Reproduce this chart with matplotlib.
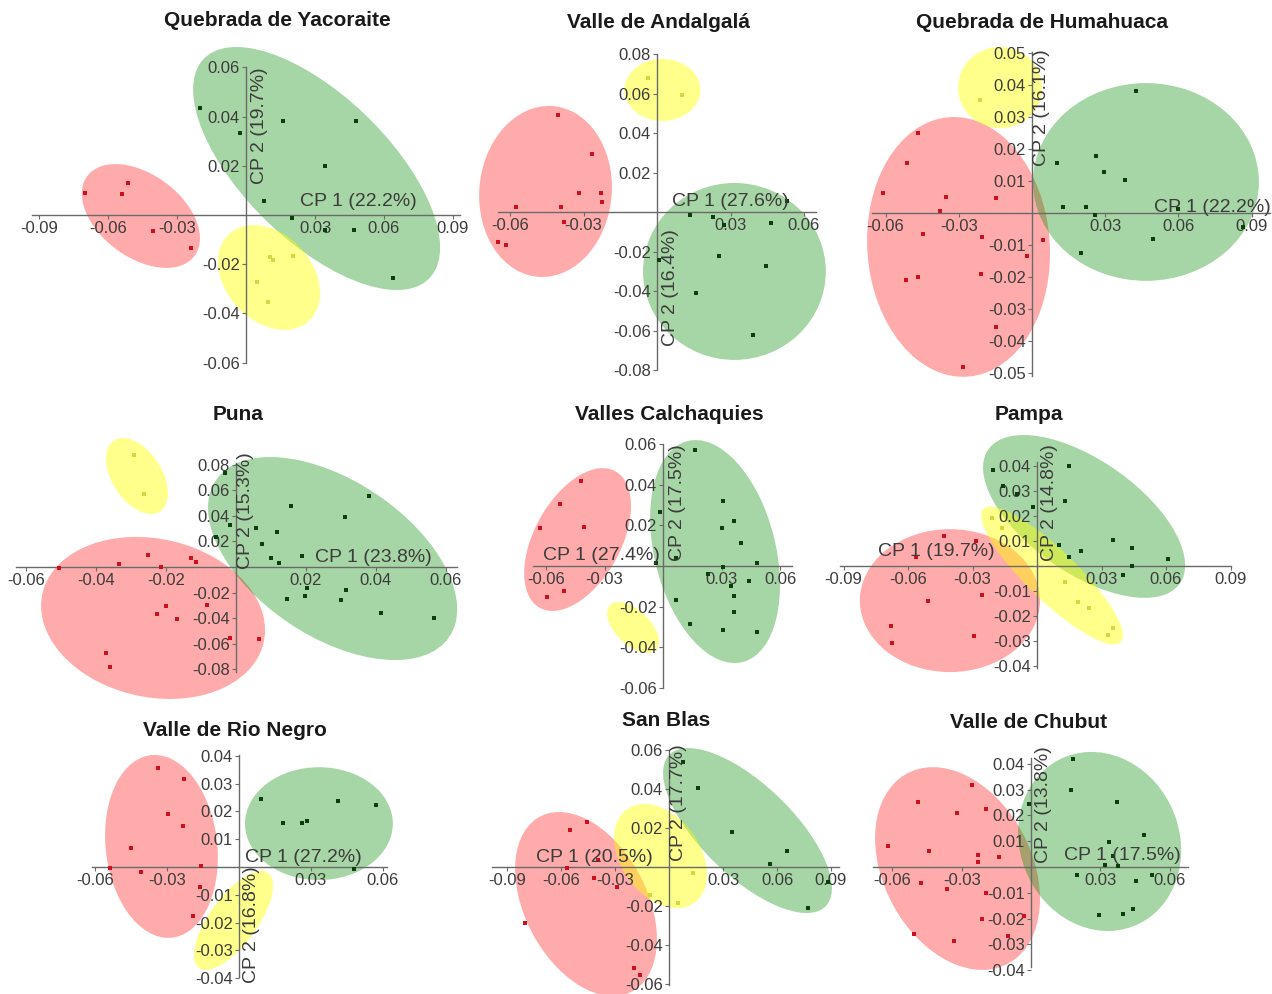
import numpy as np
import matplotlib
matplotlib.use("Agg")
import matplotlib.pyplot as plt
from matplotlib.patches import Ellipse

plt.rcParams["font.family"] = ["Liberation Sans", "DejaVu Sans"]

# ---------------------------------------------------------------- data
# Scores on the first two principal components, by group (red / green / yellow)
# Confidence ellipses: (centre x, centre y, half-extent x, half-extent y, correlation)

yacoraite_title = "Quebrada de Yacoraite"
yacoraite_axes = ("CP 1 (22.2%)", "CP 2 (19.7%)")
yacoraite_xticks = [-0.09, -0.06, -0.03, 0.03, 0.06, 0.09]
yacoraite_yticks = [-0.06, -0.04, -0.02, 0.02, 0.04, 0.06]
yacoraite_red = [(-0.0700, 0.0089), (-0.0539, 0.0085), (-0.0513, 0.0130),
                 (-0.0404, -0.0065), (-0.0239, -0.0134)]
yacoraite_green = [(-0.0200, 0.0435), (-0.0026, 0.0333), (0.0161, 0.0382),
                   (0.0478, 0.0382), (0.0343, 0.0199), (0.0078, 0.0057),
                   (0.0200, -0.0012), (0.0470, -0.0061), (0.0343, -0.0061),
                   (0.0639, -0.0256)]
yacoraite_yellow = [(0.0104, -0.0171), (0.0117, -0.0183), (0.0204, -0.0167),
                    (0.0048, -0.0272), (0.0096, -0.0354)]
yacoraite_ellipses = {"red": (-0.0457, -0.0004, 0.0257, 0.0211, -0.43),
                      "green": (0.0307, 0.0189, 0.0537, 0.0494, -0.65),
                      "yellow": (0.0100, -0.0254, 0.0222, 0.0213, -0.30)}

andalgala_title = "Valle de Andalgalá"
andalgala_axes = ("CP 1 (27.6%)", "CP 2 (16.4%)")
andalgala_xticks = [-0.06, -0.03, 0.03, 0.06]
andalgala_yticks = [-0.08, -0.06, -0.04, -0.02, 0.02, 0.04, 0.06, 0.08]
andalgala_red = [(-0.0404, 0.0491), (-0.0265, 0.0294), (-0.0318, 0.0096),
                 (-0.0229, 0.0096), (-0.0224, 0.0051), (-0.0392, 0.0025),
                 (-0.0576, 0.0025), (-0.0380, -0.0051), (-0.0649, -0.0152),
                 (-0.0616, -0.0167)]
andalgala_green = [(0.0135, -0.0015), (0.0229, -0.0025), (0.0531, 0.0056),
                   (0.0465, -0.0056), (0.0273, -0.0066), (0.0253, -0.0223),
                   (0.0445, -0.0273), (0.0008, -0.0243), (0.0159, -0.0410),
                   (0.0392, -0.0623)]
andalgala_yellow = [(-0.0037, 0.0679), (0.0102, 0.0592)]
andalgala_ellipses = {"red": (-0.0455, 0.0104, 0.0271, 0.0433, 0.05),
                      "green": (0.0316, -0.0301, 0.0373, 0.0448, 0.0),
                      "yellow": (0.0022, 0.0618, 0.0155, 0.0157, 0.0)}

humahuaca_title = "Quebrada de Humahuaca"
humahuaca_axes = ("CP 1 (22.2%)", "CP 2 (16.1%)")
humahuaca_xticks = [-0.06, -0.03, 0.03, 0.06, 0.09]
humahuaca_yticks = [-0.05, -0.04, -0.03, -0.02, -0.01, 0.01, 0.02, 0.03, 0.04, 0.05]
humahuaca_red = [(-0.0467, 0.0250), (-0.0512, 0.0156), (-0.0611, 0.0063),
                 (-0.0352, 0.0050), (-0.0148, 0.0047), (-0.0377, 0.0006),
                 (-0.0447, -0.0066), (-0.0205, -0.0075), (0.0045, -0.0084),
                 (-0.0020, -0.0134), (-0.0516, -0.0209), (-0.0467, -0.0200),
                 (-0.0209, -0.0191), (-0.0148, -0.0356), (-0.0283, -0.0481)]
humahuaca_green = [(0.0426, 0.0381), (0.0262, 0.0178), (0.0102, 0.0156),
                   (0.0295, 0.0128), (0.0381, 0.0103), (0.0127, 0.0019),
                   (0.0221, 0.0019), (0.0258, -0.0006), (0.0598, 0.0013),
                   (0.0496, -0.0081), (0.0201, -0.0125), (0.0865, -0.0044)]
humahuaca_yellow = [(-0.0213, 0.0353)]
humahuaca_ellipses = {"red": (-0.0301, -0.0106, 0.0375, 0.0406, -0.05),
                      "green": (0.0467, 0.0097, 0.0463, 0.0309, 0.0),
                      "yellow": (-0.0131, 0.0392, 0.0172, 0.0127, 0.0)}

puna_title = "Puna"
puna_axes = ("CP 1 (23.8%)", "CP 2 (15.3%)")
puna_xticks = [-0.06, -0.04, -0.02, 0.02, 0.04, 0.06]
puna_yticks = [-0.08, -0.06, -0.04, -0.02, 0.02, 0.04, 0.06, 0.08]
puna_red = [(-0.0506, -0.0008), (-0.0334, 0.0023), (-0.0251, 0.0094),
            (-0.0214, 0.0000), (-0.0129, 0.0070), (-0.0114, 0.0039),
            (-0.0200, -0.0305), (-0.0226, -0.0367), (-0.0169, -0.0406),
            (-0.0083, -0.0297), (-0.0017, -0.0555), (0.0066, -0.0563),
            (-0.0371, -0.0672), (-0.0360, -0.0781)]
puna_green = [(-0.0031, 0.0734), (0.0157, 0.0477), (0.0380, 0.0555),
              (0.0311, 0.0391), (-0.0017, 0.0328), (0.0057, 0.0305),
              (0.0117, 0.0273), (-0.0057, 0.0234), (0.0074, 0.0180),
              (0.0100, 0.0070), (0.0189, 0.0086), (0.0123, 0.0031),
              (0.0203, -0.0164), (0.0314, -0.0180), (0.0197, -0.0227),
              (0.0146, -0.0250), (0.0300, -0.0258), (0.0414, -0.0359),
              (0.0566, -0.0398)]
puna_yellow = [(-0.0291, 0.0875), (-0.0263, 0.0570)]
puna_ellipses = {"red": (-0.0237, -0.0398, 0.0320, 0.0633, -0.15),
                 "green": (0.0276, 0.0066, 0.0356, 0.0793, -0.50),
                 "yellow": (-0.0283, 0.0711, 0.00886, 0.0297, -0.45)}

calchaquies_title = "Valles Calchaquies"
calchaquies_axes = ("CP 1 (27.4%)", "CP 2 (17.5%)")
calchaquies_xticks = [-0.06, -0.03, 0.03, 0.06]
calchaquies_yticks = [-0.06, -0.04, -0.02, 0.02, 0.04, 0.06]
calchaquies_red = [(-0.0421, 0.0418), (-0.0528, 0.0305), (-0.0631, 0.0187),
                   (-0.0405, 0.0192), (-0.0508, -0.0123), (-0.0595, -0.0152)]
calchaquies_green = [(0.0164, 0.0570), (0.0308, 0.0319), (-0.0015, 0.0265),
                     (0.0364, 0.0221), (0.0303, 0.0187), (0.0400, 0.0113),
                     (0.0067, 0.0039), (-0.0036, 0.0015), (0.0482, 0.0015),
                     (0.0308, -0.0005), (0.0231, -0.0039), (0.0441, -0.0074),
                     (0.0349, -0.0098), (0.0364, -0.0147), (0.0067, -0.0167),
                     (0.0364, -0.0226), (0.0138, -0.0285), (0.0308, -0.0314),
                     (0.0482, -0.0324)]
calchaquies_yellow = []
calchaquies_ellipses = {"red": (-0.0438, 0.0130, 0.0274, 0.0351, 0.47),
                        "green": (0.0267, 0.0071, 0.0333, 0.0548, -0.30),
                        "yellow": (-0.0154, -0.0302, 0.0133, 0.0125, -0.55)}

pampa_title = "Pampa"
pampa_axes = ("CP 1 (19.7%)", "CP 2 (14.8%)")
pampa_xticks = [-0.09, -0.06, -0.03, 0.03, 0.06, 0.09]
pampa_yticks = [-0.04, -0.03, -0.02, -0.01, 0.01, 0.02, 0.03, 0.04]
pampa_red = [(-0.0433, 0.0120), (-0.0284, 0.0100), (-0.0563, 0.0036),
             (-0.0256, -0.0116), (-0.0507, -0.0141), (-0.0679, -0.0241),
             (-0.0293, -0.0281), (-0.0674, -0.0309)]
pampa_green = [(-0.0205, 0.0386), (0.0149, 0.0402), (-0.0158, 0.0321),
               (-0.0093, 0.0289), (0.0130, 0.0261), (-0.0019, 0.0237),
               (0.0353, 0.0104), (0.0442, 0.0072), (0.0102, 0.0084),
               (0.0205, 0.0060), (0.0149, 0.0036), (0.0609, 0.0028),
               (0.0442, 0.0000), (0.0400, -0.0036)]
pampa_yellow = [(0.0130, -0.0064), (0.0191, -0.0145), (0.0242, -0.0169),
                (0.0330, -0.0277), (0.0353, -0.0249), (-0.0209, 0.0193),
                (-0.0163, 0.0153)]
pampa_ellipses = {"red": (-0.0405, -0.0139, 0.0419, 0.0287, 0.0),
                  "green": (0.0219, 0.0199, 0.0470, 0.0327, -0.60),
                  "yellow": (0.0070, -0.0038, 0.0330, 0.0277, -0.87)}

rionegro_title = "Valle de Rio Negro"
rionegro_axes = ("CP 1 (27.2%)", "CP 2 (16.8%)")
rionegro_xticks = [-0.06, -0.03, 0.03, 0.06]
rionegro_yticks = [-0.04, -0.03, -0.02, -0.01, 0.01, 0.02, 0.03, 0.04]
rionegro_red = [(-0.0338, 0.0356), (-0.0229, 0.0317), (-0.0296, 0.0191),
                (-0.0233, 0.0147), (-0.0450, 0.0068), (-0.0158, 0.0004),
                (-0.0538, -0.0004), (-0.0408, -0.0018), (-0.0163, -0.0072),
                (-0.0192, -0.0176)]
rionegro_green = [(0.0092, 0.0245), (0.0413, 0.0237), (0.0571, 0.0223),
                  (0.0183, 0.0158), (0.0263, 0.0158), (0.0283, 0.0165),
                  (0.0479, -0.0007)]
rionegro_yellow = []
rionegro_ellipses = {"red": (-0.0323, 0.0074, 0.0235, 0.0329, -0.12),
                     "green": (0.0333, 0.0156, 0.0308, 0.0203, 0.0),
                     "yellow": (-0.0023, -0.0192, 0.0165, 0.0178, 0.70)}

sanblas_title = "San Blas"
sanblas_axes = ("CP 1 (20.5%)", "CP 2 (17.7%)")
sanblas_xticks = [-0.09, -0.06, -0.03, 0.03, 0.06, 0.09]
sanblas_yticks = [-0.06, -0.04, -0.02, 0.02, 0.04, 0.06]
sanblas_red = [(-0.0550, 0.0190), (-0.0456, 0.0231), (-0.0567, -0.0005),
               (-0.0417, -0.0056), (-0.0289, -0.0103), (-0.0800, -0.0287),
               (-0.0194, -0.0518), (-0.0161, -0.0554), (-0.0394, 0.0036)]
sanblas_green = [(0.0078, 0.0538), (0.0161, 0.0405), (0.0350, 0.0179),
                 (0.0656, 0.0082), (0.0561, 0.0015), (0.0883, -0.0077),
                 (0.0772, -0.0210)]
sanblas_yellow = [(-0.0106, -0.0144), (0.0050, -0.0185), (0.0133, -0.0031)]
sanblas_ellipses = {"red": (-0.0461, -0.0190, 0.0394, 0.0472, -0.38),
                    "green": (0.0436, 0.0187, 0.0469, 0.0423, -0.70),
                    "yellow": (-0.0047, 0.0056, 0.0258, 0.0267, -0.35)}

chubut_title = "Valle de Chubut"
chubut_axes = ("CP 1 (17.5%)", "CP 2 (13.8%)")
chubut_xticks = [-0.06, -0.03, 0.03, 0.06]
chubut_yticks = [-0.04, -0.03, -0.02, -0.01, 0.01, 0.02, 0.03, 0.04]
chubut_red = [(-0.0255, 0.0318), (-0.0489, 0.0252), (-0.0320, 0.0209),
              (-0.0195, 0.0225), (-0.0619, 0.0081), (-0.0442, 0.0062),
              (-0.0229, 0.0047), (-0.0229, 0.0019), (-0.0139, 0.0039),
              (-0.0476, -0.0062), (-0.0364, -0.0085), (-0.0195, -0.0101),
              (-0.0212, -0.0202), (-0.0030, -0.0190), (-0.0506, -0.0260),
              (-0.0333, -0.0287), (-0.0100, -0.0267)]
chubut_green = [(0.0182, 0.0419), (0.0173, 0.0298), (0.0372, 0.0252),
                (-0.0009, 0.0244), (0.0489, 0.0124), (0.0338, 0.0097),
                (0.0355, 0.0043), (0.0320, 0.0008), (0.0377, 0.0004),
                (0.0199, -0.0031), (0.0455, -0.0054), (0.0524, -0.0031),
                (0.0442, -0.0163), (0.0398, -0.0182), (0.0294, -0.0186)]
chubut_yellow = []
chubut_ellipses = {"red": (-0.0318, -0.0006, 0.0357, 0.0393, -0.30),
                   "green": (0.0297, 0.0099, 0.0353, 0.0347, -0.10)}

# ---------------------------------------------------------------- layout
W, H = 1272, 994
# origin (px from left, px from top), px per unit on x and y,
# axis-line extents, title centre and axis-title centres (px)
layout = [
    dict(o=(246, 215), s=(2300, 2460), xs=(-0.093, 0.093), ys=(-0.06, 0.06),
         t=(277, 20), xl=(358, 202), yl=(260, 126)),
    dict(o=(657, 212), s=(2450, 1975), xs=(-0.065, 0.065), ys=(-0.08, 0.08),
         t=(658, 22), xl=(730, 202), yl=(670, 288)),
    dict(o=(1032, 213), s=(2440, 3200), xs=(-0.0656, 0.0975), ys=(-0.051, 0.0503),
         t=(1042, 23), xl=(1212, 207), yl=(1042, 108)),
    dict(o=(236, 567), s=(3500, 1280), xs=(-0.063, 0.063), ys=(-0.082, 0.081),
         t=(238, 415), xl=(373, 557), yl=(245, 511)),
    dict(o=(663, 566), s=(1950, 2035), xs=(-0.0667, 0.0662), ys=(-0.06, 0.06),
         t=(669, 415), xl=(601, 555), yl=(677, 503)),
    dict(o=(1037, 566), s=(2150, 2490), xs=(-0.0916, 0.0902), ys=(-0.041, 0.0418),
         t=(1029, 415), xl=(936, 552), yl=(1050, 503)),
    dict(o=(239, 867), s=(2400, 2780), xs=(-0.0613, 0.0617), ys=(-0.0396, 0.0403),
         t=(235, 730), xl=(303, 857), yl=(251, 925)),
    dict(o=(669, 867), s=(1800, 1950), xs=(-0.0983, 0.0944), ys=(-0.0605, 0.0595),
         t=(666, 720), xl=(594, 857), yl=(678, 803)),
    dict(o=(1031, 867), s=(2310, 2580), xs=(-0.0684, 0.068), ys=(-0.0388, 0.0422),
         t=(1029, 722), xl=(1122, 855), yl=(1043, 805)),
]

panels = [
    (yacoraite_title, yacoraite_axes, yacoraite_xticks, yacoraite_yticks,
     yacoraite_red, yacoraite_green, yacoraite_yellow, yacoraite_ellipses),
    (andalgala_title, andalgala_axes, andalgala_xticks, andalgala_yticks,
     andalgala_red, andalgala_green, andalgala_yellow, andalgala_ellipses),
    (humahuaca_title, humahuaca_axes, humahuaca_xticks, humahuaca_yticks,
     humahuaca_red, humahuaca_green, humahuaca_yellow, humahuaca_ellipses),
    (puna_title, puna_axes, puna_xticks, puna_yticks,
     puna_red, puna_green, puna_yellow, puna_ellipses),
    (calchaquies_title, calchaquies_axes, calchaquies_xticks, calchaquies_yticks,
     calchaquies_red, calchaquies_green, calchaquies_yellow, calchaquies_ellipses),
    (pampa_title, pampa_axes, pampa_xticks, pampa_yticks,
     pampa_red, pampa_green, pampa_yellow, pampa_ellipses),
    (rionegro_title, rionegro_axes, rionegro_xticks, rionegro_yticks,
     rionegro_red, rionegro_green, rionegro_yellow, rionegro_ellipses),
    (sanblas_title, sanblas_axes, sanblas_xticks, sanblas_yticks,
     sanblas_red, sanblas_green, sanblas_yellow, sanblas_ellipses),
    (chubut_title, chubut_axes, chubut_xticks, chubut_yticks,
     chubut_red, chubut_green, chubut_yellow, chubut_ellipses),
]

fill_colors = {"red": ((1.0, 0.0, 0.0), 0.33),
               "green": ((0.0, 0.55, 0.0), 0.35),
               "yellow": ((1.0, 1.0, 0.0), 0.45)}
point_colors = {"red": "#cc1020", "green": "#0b3f0b", "yellow": "#d6d640"}
axis_gray = "#6a6a6a"
text_gray = "#3c3c3c"


def confidence_ellipse(cx, cy, hx, hy, rho, **kw):
    cov = np.array([[hx * hx, rho * hx * hy], [rho * hx * hy, hy * hy]])
    vals, vecs = np.linalg.eigh(cov)
    angle = np.degrees(np.arctan2(vecs[1, 1], vecs[0, 1]))
    return Ellipse((cx, cy), 2 * np.sqrt(vals[1]), 2 * np.sqrt(vals[0]),
                   angle=angle, **kw)


fig = plt.figure(figsize=(W / 100, H / 100), dpi=100)
fig.patch.set_facecolor("white")

for lay, (title, (xlab, ylab), xt, yt, red, green, yellow, ells) in zip(layout, panels):
    ox, oy = lay["o"]
    sx, sy = lay["s"]
    ax = fig.add_axes([0, 0, 1, 1])
    ax.patch.set_alpha(0)
    ax.set_xlim(-ox / sx, (W - ox) / sx)
    ax.set_ylim((oy - H) / sy, oy / sy)

    for name in ("red", "green", "yellow"):
        if name in ells:
            col, a = fill_colors[name]
            ax.add_patch(confidence_ellipse(*ells[name], facecolor=col, alpha=a,
                                            edgecolor="none", zorder=1))

    for name, pts in (("green", green), ("red", red), ("yellow", yellow)):
        if pts:
            arr = np.array(pts)
            ax.plot(arr[:, 0], arr[:, 1], "s", ms=3.4, mew=0,
                    color=point_colors[name], zorder=4)

    for side in ("top", "right"):
        ax.spines[side].set_visible(False)
    ax.spines["left"].set_position(("data", 0))
    ax.spines["bottom"].set_position(("data", 0))
    ax.spines["left"].set_bounds(*lay["ys"])
    ax.spines["bottom"].set_bounds(*lay["xs"])
    for side in ("left", "bottom"):
        ax.spines[side].set_color(axis_gray)
        ax.spines[side].set_linewidth(1.0)
        ax.spines[side].set_zorder(3)

    ax.set_xticks(xt)
    ax.set_xticklabels([f"{v:.2f}" for v in xt])
    ax.set_yticks(yt)
    ax.set_yticklabels([f"{v:.2f}" for v in yt])
    ax.tick_params(axis="both", direction="out", length=3, width=0.8,
                   color=axis_gray, labelcolor=text_gray, labelsize=12, pad=1.5)

    tx, ty = lay["t"]
    fig.text(tx / W, 1 - ty / H, title, ha="center", va="center",
             fontsize=15, fontweight="bold", color="#1a1a1a")
    lx, ly = lay["xl"]
    fig.text(lx / W, 1 - ly / H, xlab, ha="center", va="center",
             fontsize=14, color=text_gray, zorder=5)
    vx, vy = lay["yl"]
    fig.text(vx / W, 1 - vy / H, ylab, ha="center", va="center",
             fontsize=14, color=text_gray, rotation=90, zorder=5)

fig.savefig("out.png", dpi=100, facecolor="white")
